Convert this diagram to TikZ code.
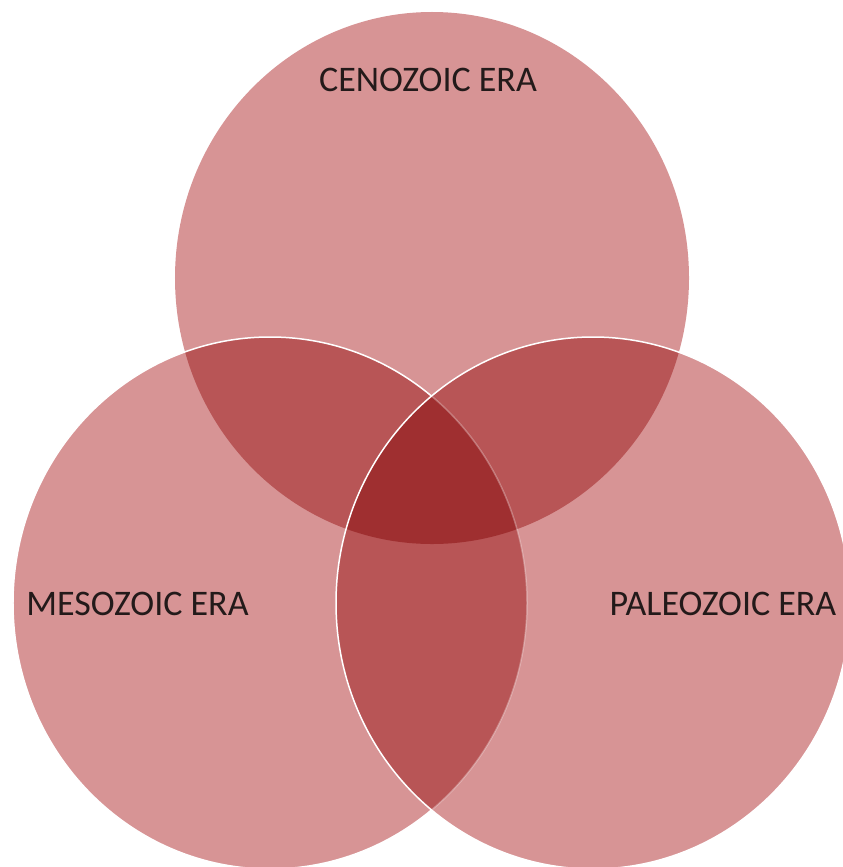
\documentclass[tikz,border=0pt]{standalone}
\usepackage{fontspec}
\setmainfont{Carlito}
\definecolor{vbase}{HTML}{D79495}
\definecolor{vdbl}{HTML}{B85556}
\definecolor{vtri}{HTML}{9F2F30}
\definecolor{txt}{HTML}{231A1A}
\begin{document}
\begin{tikzpicture}[x=1bp,y=-1bp,
  ell/.style={x radius=257bp, y radius=266bp},
  outline/.style={draw=white, line width=1.5bp},
  lbl/.style={font=\fontsize{36bp}{40bp}\selectfont, text=txt, inner sep=0pt, anchor=base}]
\useasboundingbox (0,0) rectangle (843,867);
\clip (0,0) rectangle (843,867);
\coordinate (cT) at (432,278);
\coordinate (cL) at (270,603);
\coordinate (cR) at (593,603);
% base fills
\fill[vbase] (cT) ellipse[ell];
\fill[vbase] (cL) ellipse[ell];
\fill[vbase] (cR) ellipse[ell];
% pairwise overlaps
\begin{scope}
  \clip (cT) ellipse[ell];
  \fill[vdbl] (cL) ellipse[ell];
  \fill[vdbl] (cR) ellipse[ell];
\end{scope}
\begin{scope}
  \clip (cL) ellipse[ell];
  \fill[vdbl] (cR) ellipse[ell];
\end{scope}
% triple overlap
\begin{scope}
  \clip (cT) ellipse[ell];
  \clip (cL) ellipse[ell];
  \fill[vtri] (cR) ellipse[ell];
\end{scope}
% outlines
\begin{scope}[even odd rule]
  \clip (-20,-20) rectangle (880,900) (cR) ellipse[ell];
  \path[outline] (cL) ellipse[ell];
\end{scope}
\begin{scope}
  \clip (cR) ellipse[ell];
  \path[outline, draw opacity=0.3] (cL) ellipse[ell];
\end{scope}
\path[outline] (cR) ellipse[ell];
% labels
\node[lbl] (ceno) at (428,91) {CENOZOIC ERA};
\node[lbl] (meso) at (137.5,615) {MESOZOIC ERA};
\node[lbl] (paleo) at (723,615) {PALEOZOIC ERA};
\end{tikzpicture}
\end{document}
